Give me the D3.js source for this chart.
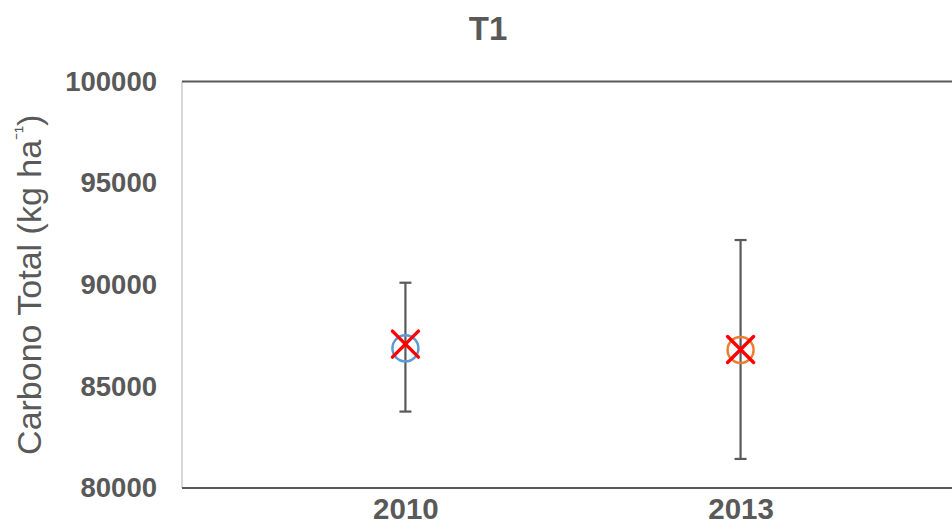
<!DOCTYPE html>
<html>
<head>
<meta charset="utf-8">
<script src="https://cdn.jsdelivr.net/npm/d3@7"></script>
<style>
  html, body { margin: 0; padding: 0; background: #fff; }
  svg { display: block; }
  text { font-family: "Liberation Sans", Arial, sans-serif; }
</style>
</head>
<body>
<div id="chart"></div>
<script>
// Total carbon stock for treatment T1, two survey years
const title = "T1";
const years = [2010, 2013];
const circleValues = [86870, 86790];
const crossValues = [87080, 86815];
const errLow = [83760, 81430];
const errHigh = [90100, 92200];
const yTicks = [80000, 85000, 90000, 95000, 100000];
const yLabel = "Carbono Total (kg ha";
const yLabelSup = "\u207B\u00B9";

const W = 952, H = 525;
const plot = { left: 182, right: 964, top: 81.5, bottom: 488 };
const ink = "#595959";
const circleColors = ["#5B9BD5", "#ED7D31"];

const svg = d3.select("#chart").append("svg")
  .attr("width", W).attr("height", H);

const x = d3.scaleLinear().domain([2008, 2015]).range([plot.left, plot.right]);
const y = d3.scaleLinear().domain([80000, 100000]).range([plot.bottom, plot.top]);

// plot frame: light left edge, dark top and bottom rules
svg.append("line")
  .attr("x1", plot.left).attr("x2", plot.left)
  .attr("y1", plot.top).attr("y2", plot.bottom)
  .attr("stroke", "#bfbfbf").attr("stroke-width", 1.2);
[plot.top, plot.bottom].forEach(py => {
  svg.append("line")
    .attr("x1", plot.left).attr("x2", W)
    .attr("y1", py).attr("y2", py)
    .attr("stroke", ink).attr("stroke-width", 2);
});

// y axis labels
const yAxis = d3.axisLeft(y).tickValues(yTicks).tickSize(0).tickPadding(25)
  .tickFormat(d3.format("d"));
const gy = svg.append("g").attr("transform", `translate(${plot.left},0)`).call(yAxis);
gy.select(".domain").remove();
gy.selectAll("text")
  .attr("fill", ink).style("font-size", "27.5px").style("font-weight", "bold");

// x axis labels
const xAxis = d3.axisBottom(x).tickValues(years).tickSize(0).tickPadding(10)
  .tickFormat(d3.format("d"));
const gx = svg.append("g").attr("transform", `translate(0,${plot.bottom})`).call(xAxis);
gx.select(".domain").remove();
gx.selectAll("text")
  .attr("fill", ink).style("font-size", "29.5px").style("font-weight", "bold");

// title
svg.append("text")
  .attr("x", 488).attr("y", 40)
  .attr("text-anchor", "middle")
  .attr("fill", ink).style("font-size", "33px").style("font-weight", "bold")
  .text(title);

// y axis title
const yt = svg.append("text")
  .attr("transform", `translate(41,${(plot.top + plot.bottom) / 2}) rotate(-90)`)
  .attr("text-anchor", "middle")
  .attr("fill", ink).style("font-size", "34px");
yt.append("tspan").text(yLabel);
yt.append("tspan").style("font-size", "21px").attr("dy", -12).text(yLabelSup);
yt.append("tspan").attr("dy", 12).text(")");

// error bars
const data = years.map((yr, i) => ({
  yr, circle: circleValues[i], cross: crossValues[i], lo: errLow[i], hi: errHigh[i], i
}));
const eb = svg.append("g").attr("stroke", ink).attr("stroke-width", 2.2);
data.forEach(d => {
  const cx = x(d.yr);
  eb.append("line").attr("x1", cx).attr("x2", cx).attr("y1", y(d.hi)).attr("y2", y(d.lo));
  eb.append("line").attr("x1", cx - 6).attr("x2", cx + 6).attr("y1", y(d.hi)).attr("y2", y(d.hi));
  eb.append("line").attr("x1", cx - 6).attr("x2", cx + 6).attr("y1", y(d.lo)).attr("y2", y(d.lo));
});

// circle markers
svg.append("g").selectAll("circle").data(data).join("circle")
  .attr("cx", d => x(d.yr)).attr("cy", d => y(d.circle)).attr("r", 13)
  .attr("fill", "none").attr("stroke", d => circleColors[d.i]).attr("stroke-width", 2.5);

// cross markers
const s = 13;
const xm = svg.append("g").attr("stroke", "#FF0000").attr("stroke-width", 3.4).attr("stroke-linecap", "round");
data.forEach(d => {
  const cx = x(d.yr), cy = y(d.cross);
  xm.append("line").attr("x1", cx - s).attr("y1", cy - s).attr("x2", cx + s).attr("y2", cy + s);
  xm.append("line").attr("x1", cx - s).attr("y1", cy + s).attr("x2", cx + s).attr("y2", cy - s);
});
</script>
</body>
</html>
